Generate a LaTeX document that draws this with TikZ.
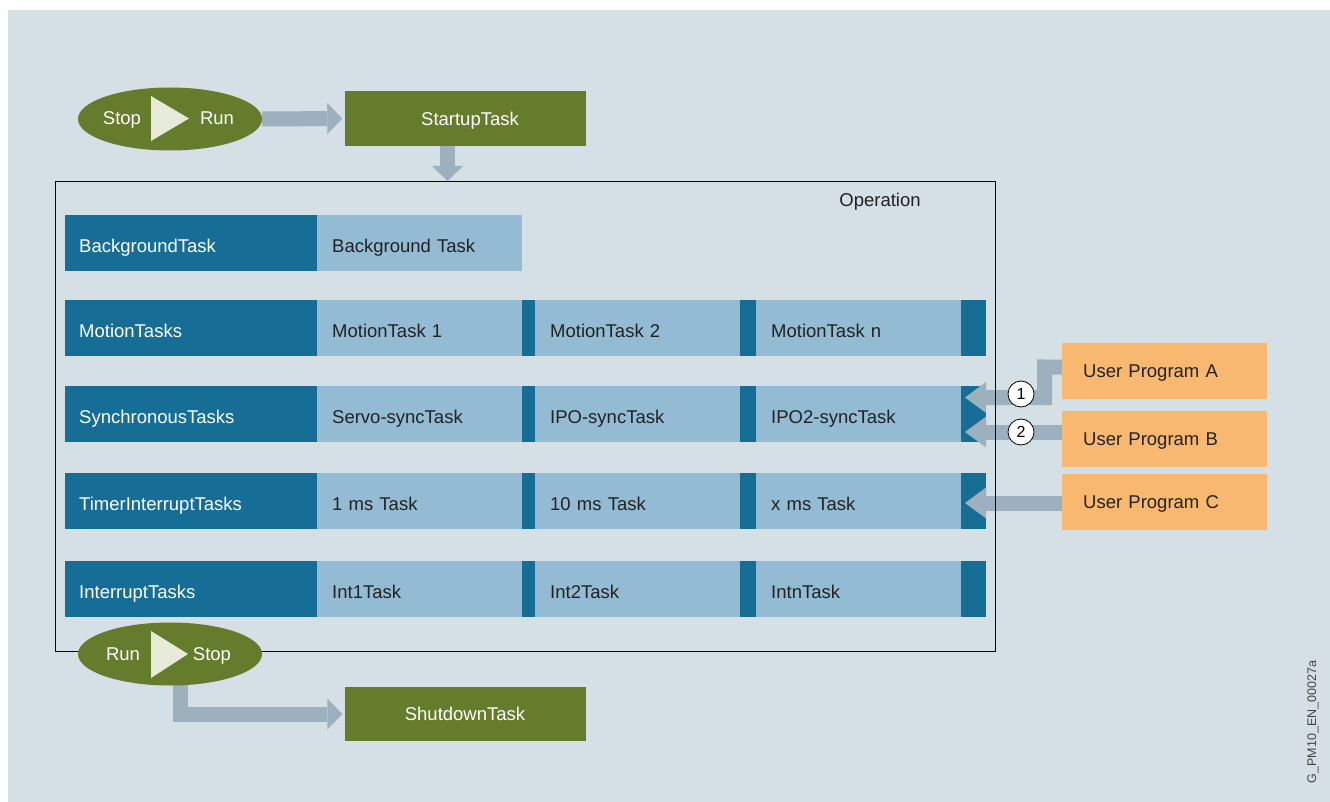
\documentclass[tikz,border=0pt]{standalone}
\usepackage{fontspec}
\setmainfont{Liberation Sans}
\usetikzlibrary{arrows.meta,shapes.geometric}
\definecolor{bgc}{HTML}{D4DFE6}
\definecolor{dblue}{HTML}{166E96}
\definecolor{lblue}{HTML}{93BBD3}
\definecolor{green1}{HTML}{657C2D}
\definecolor{orange1}{HTML}{F8B870}
\definecolor{tric}{HTML}{E6EAD9}
\definecolor{arrowc}{HTML}{9DB0BE}
\definecolor{txt}{HTML}{222222}
\pgfdeclarelayer{bg}
\pgfdeclarelayer{mid}
\pgfsetlayers{bg,mid,main}
\begin{document}
\begin{tikzpicture}[x=1pt,y=-1pt,
  every node/.style={font=\fontsize{18.5pt}{22pt}\selectfont},
  celltext/.style={text height=18.5pt, text depth=0pt},
  captext/.style={text height=13.2pt, text depth=0pt},
  dcell/.style={fill=dblue, text=white, anchor=north west, minimum height=56pt, inner ysep=0pt, inner xsep=14pt, text width=224pt, align=left, celltext},
  lcell/.style={fill=lblue, text=txt, anchor=north west, minimum height=56pt, inner ysep=0pt, inner xsep=15pt, text width=175pt, align=left, celltext},
  stripe/.style={fill=dblue, anchor=north west, minimum height=56pt, inner sep=0pt},
  ell/.style={ellipse, fill=green1, minimum width=184pt, minimum height=63pt, inner sep=0pt},
  etext/.style={text=white, inner sep=0pt, anchor=base},
  tri/.style={fill=tric},
  gbox/.style={fill=green1, text=white, minimum width=241pt, inner sep=0pt, captext},
  ubox/.style={fill=orange1, text=txt, anchor=north west, minimum height=56pt, inner ysep=0pt, inner xsep=21pt, text width=163pt, align=left, captext},
  num/.style={circle, draw=black, fill=white, line width=0.8pt, minimum size=26pt, inner sep=0pt, font=\fontsize{16pt}{16pt}\selectfont},
  bigarrow/.style={draw=arrowc, line width=15pt, line join=miter, -{Triangle[width=31pt,length=15pt,line width=0pt]}},
  sidearrow/.style={draw=arrowc, line width=15pt, line join=miter, -{Triangle[width=31pt,length=21pt,line width=0pt]}}
]
\useasboundingbox (0,0) rectangle (1330,802);

\begin{pgfonlayer}{bg}
\fill[bgc] (8,10) rectangle (1330,802);
% rows
\node[dcell] (b0) at (65,215) {BackgroundTask};
\node[lcell] (b1) at (317,215) {Background Task};
\foreach \y/\n/\a/\b/\c/\d in {
  300/m/MotionTasks/MotionTask 1/MotionTask 2/MotionTask n,
  386/s/SynchronousTasks/Servo-syncTask/IPO-syncTask/IPO2-syncTask,
  473/t/TimerInterruptTasks/1 ms Task/10 ms Task/x ms Task,
  561/i/InterruptTasks/Int1Task/Int2Task/IntnTask}{
  \node[dcell] (\n0) at (65,\y) {\a};
  \node[lcell] (\n1) at (317,\y) {\b};
  \node[stripe, minimum width=13pt] (\n s1) at (522,\y) {};
  \node[lcell] (\n2) at (535,\y) {\c};
  \node[stripe, minimum width=16pt] (\n s2) at (740,\y) {};
  \node[lcell] (\n3) at (756,\y) {\d};
  \node[stripe, minimum width=25pt] (\n4) at (961,\y) {};
}
\end{pgfonlayer}

% operation frame
\node[draw=black, line width=0.8pt, minimum width=940pt, minimum height=470pt, inner sep=0pt] (op) at (525,416) {};
\node[text=txt, captext] (optitle) at (880,199.5) {Operation};

% green boxes
\node[gbox, minimum height=55pt] (startup) at (465,118.5) {\hspace*{10pt}StartupTask};
\node[gbox, minimum height=54pt] (shutdown) at (465,714) {ShutdownTask};

% ellipses
\node[ell] (e1) at (170,119) {};
\fill[tri] (151,96) -- (189,118.5) -- (151,141) -- cycle;
\node[etext] (e1a) at (122,125) {Stop};
\node[etext] (e1b) at (217,125) {Run};

\node[ell] (e2) at (170,654) {};
\fill[tri] (151,631) -- (188,654) -- (151,678) -- cycle;
\node[etext] (e2a) at (123,660) {Run};
\node[etext] (e2b) at (212,660) {Stop};

% user programs
\node[ubox] (uA) at (1062,343) {User Program A};
\node[ubox] (uB) at (1062,411) {User Program B};
\node[ubox] (uC) at (1062,474) {User Program C};

% numbered circles
\node[num] (n1) at (1021,394) {1};
\node[num] (n2) at (1021,432) {2};

% free ends
\coordinate (dn) at (447.5,181);
\coordinate (bstart) at (180.5,670);
\coordinate (tA) at (965,397.5);
\coordinate (tB) at (965,432);
\coordinate (tC) at (965,503);

\begin{pgfonlayer}{mid}
\draw[bigarrow] (e1.east) -- ([xshift=-2pt]startup.west);
\draw[bigarrow] (startup.south -| dn) -- (dn);
\draw[bigarrow] (bstart) |- ([xshift=-2pt]shutdown.west);
\draw[sidearrow] ([yshift=4pt]uA.west) -- (1044.5,367) -- (1044.5,397.5) -- (tA);
\draw[sidearrow] (uB.west |- tB) -- (tB);
\draw[sidearrow] (uC.west |- tC) -- (tC);
\end{pgfonlayer}

\node[rotate=90, text=txt!85!white, font=\fontsize{12.5pt}{14pt}\selectfont] (code) at (1313,722) {G\_PM10\_EN\_00027a};
\end{tikzpicture}
\end{document}
